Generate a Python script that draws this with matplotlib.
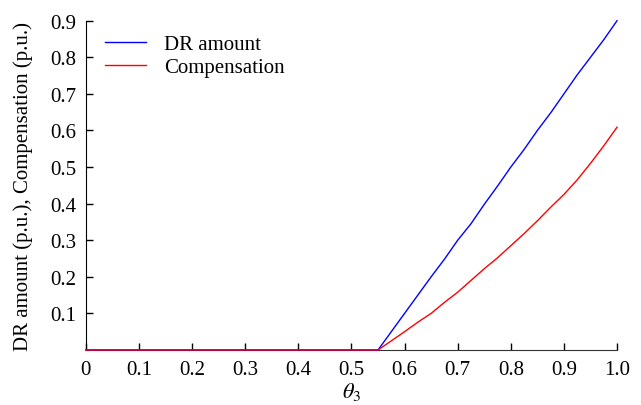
import matplotlib
matplotlib.use("Agg")
import matplotlib.pyplot as plt

# theta_3 values and curves
theta = [0.0, 0.1, 0.2, 0.3, 0.4, 0.5, 0.55, 0.575, 0.6, 0.625, 0.65, 0.675, 0.7,
         0.725, 0.75, 0.775, 0.8, 0.825, 0.85, 0.875, 0.9, 0.925, 0.95, 0.975, 1.0]
dr_amount = [0, 0, 0, 0, 0, 0, 0, 0.05, 0.10, 0.15, 0.20, 0.248, 0.30,
             0.345, 0.398, 0.448, 0.50, 0.548, 0.60, 0.648, 0.70, 0.752, 0.80, 0.848, 0.90]
compensation = [0, 0, 0, 0, 0, 0, 0, 0.025, 0.05, 0.076, 0.10, 0.13, 0.158,
                0.19, 0.222, 0.252, 0.285, 0.318, 0.353, 0.39, 0.425, 0.465, 0.51, 0.558, 0.609]

x_ticks = [0, 0.1, 0.2, 0.3, 0.4, 0.5, 0.6, 0.7, 0.8, 0.9, 1.0]
x_labels = ["0", "0.1", "0.2", "0.3", "0.4", "0.5", "0.6", "0.7", "0.8", "0.9", "1.0"]
y_ticks = [0.1, 0.2, 0.3, 0.4, 0.5, 0.6, 0.7, 0.8, 0.9]

plt.rcParams['font.family'] = ['Liberation Serif', 'DejaVu Serif']
plt.rcParams['mathtext.fontset'] = 'stix'
plt.rcParams['font.size'] = 15

fig = plt.figure(figsize=(6.41, 4.06), dpi=100)
ax = fig.add_axes([0.134, 0.1355, 0.8286, 0.811])

ax.plot(theta, dr_amount, color='#0000ff', lw=1.0, label='DR amount', clip_on=False, zorder=3)
ax.plot(theta, compensation, color='#ff0000', lw=1.0, label='Compensation', clip_on=False, zorder=4)

ax.set_xlim(0, 1.0)
ax.set_ylim(0, 0.9)
ax.set_xticks(x_ticks)
ax.set_xticklabels(x_labels)
ax.set_yticks(y_ticks)
ax.set_yticklabels([f"{v:.1f}" for v in y_ticks])

ax.spines['top'].set_visible(False)
ax.spines['right'].set_visible(False)
ax.spines['left'].set_color('black')
ax.spines['bottom'].set_color('#333333')
ax.tick_params(direction='in', length=5, width=1, labelsize=15, pad=7)

ax.set_xlabel(r'$\theta_3$', fontsize=16, labelpad=1)
ax.set_ylabel('DR amount (p.u.), Compensation (p.u.)', fontsize=15, labelpad=12)

ax.legend(loc='upper left', frameon=False, fontsize=15, handlelength=2.0,
          handletextpad=0.85, labelspacing=0.15, bbox_to_anchor=(0.0, 1.015))

fig.savefig('out.png', dpi=100)
